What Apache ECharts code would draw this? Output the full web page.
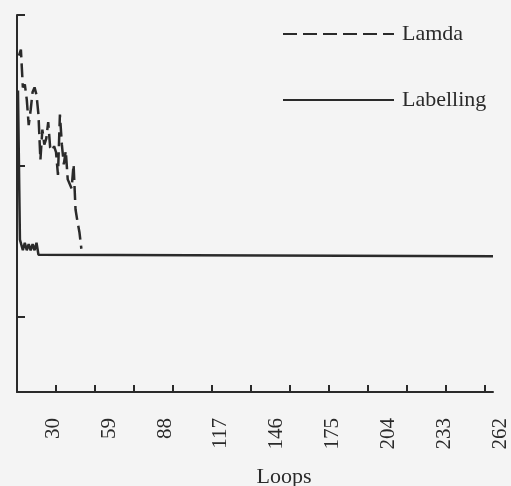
<!DOCTYPE html>
<html><head><meta charset="utf-8">
<script src="https://cdn.jsdelivr.net/npm/echarts@6/dist/echarts.min.js"></script>
<style>html,body{margin:0;padding:0;background:#f4f4f4}#c{width:511px;height:486px}</style>
</head><body><div id="c"></div>
<script>
// X tick labels (Loops)
const loopLabels = [30, 59, 88, 117, 146, 175, 204, 233, 262];
// Minor tick positions on the drawn axis
const xTicks = [30, 50, 70, 90, 110, 130, 150, 170, 190, 210, 230, 250];
const yTicks = [0.5, 1.5, 2.5];
// Lamda series (loop, value)
const lamdaLoops = [11,12,13,14,15,16,17,18,19,20,21,22,23,24,25,26,27,28,29,30,31,32,33,34,35,36,37,38,39,40,41,42,43];
const lamdaVals  = [2.23,2.27,2.02,2.04,1.94,1.77,1.87,1.99,2.02,1.97,1.84,1.54,1.74,1.64,1.68,1.79,1.62,1.60,1.63,1.59,1.44,1.84,1.64,1.51,1.60,1.41,1.42,1.35,1.51,1.21,1.13,1.06,0.95];
// Labelling series (loop, value)
const labLoops = [10.5,11.5,12,13,14,15,16,17,18,19,20,21,22,254];
const labVals  = [2.00,1.01,1.01,0.94,0.99,0.94,0.98,0.94,0.98,0.94,0.99,0.91,0.90,0.90];

const zip = (a, b) => a.map((x, i) => [x, b[i]]);
const ink = '#2a2a2a';
const serif = "'Liberation Serif', 'Times New Roman', serif";

const chart = echarts.init(document.getElementById('c'), null, {renderer: 'canvas'});
chart.setOption({
  backgroundColor: '#f4f4f4',
  animation: false,
  grid: [
    {left: 17, right: 18, top: 15, bottom: 94},
    {left: 17, right: 11, top: 15, bottom: 94}
  ],
  xAxis: [
    {type: 'value', gridIndex: 0, min: 10, max: 254,
     axisLine: {lineStyle: {color: ink, width: 2}},
     axisTick: {inside: true, length: 7, customValues: xTicks, lineStyle: {color: ink, width: 2}},
     axisLabel: {show: false}, splitLine: {show: false}},
    {type: 'value', gridIndex: 1, min: 11.14, max: 262,
     axisLine: {show: false}, axisTick: {show: false}, splitLine: {show: false},
     axisLabel: {customValues: loopLabels, rotate: 90, margin: 26, color: ink,
                 fontFamily: serif, fontSize: 21, showMaxLabel: true}}
  ],
  yAxis: [
    {type: 'value', gridIndex: 0, min: 0, max: 2.5,
     axisLine: {show: true, lineStyle: {color: ink, width: 2}},
     axisTick: {show: true, inside: true, length: 8, customValues: yTicks, lineStyle: {color: ink, width: 2}},
     axisLabel: {show: false}, splitLine: {show: false}},
    {type: 'value', gridIndex: 1, min: 0, max: 2.5, show: false}
  ],
  legend: {
    data: ['Lamda', 'Labelling'], orient: 'vertical', left: 277, top: 18,
    itemWidth: 111, itemHeight: 14, itemGap: 44,
    itemStyle: {opacity: 0},
    textStyle: {fontFamily: serif, fontSize: 22, color: ink, padding: [0, 0, 0, 3]}
  },
  graphic: [{type: 'text', x: 284, y: 477,
    style: {text: 'Loops', fill: ink, fontFamily: serif, fontSize: 22, textAlign: 'center', textVerticalAlign: 'middle'}}],
  series: [
    {name: 'Lamda', type: 'line', xAxisIndex: 0, yAxisIndex: 0, symbol: 'none',
     data: zip(lamdaLoops, lamdaVals),
     lineStyle: {color: ink, width: 2.5, type: [14, 6]}, itemStyle: {color: ink}},
    {name: 'Labelling', type: 'line', xAxisIndex: 0, yAxisIndex: 0, symbol: 'none',
     data: zip(labLoops, labVals),
     lineStyle: {color: ink, width: 2.5}, itemStyle: {color: ink}}
  ]
});
</script>
</body></html>
